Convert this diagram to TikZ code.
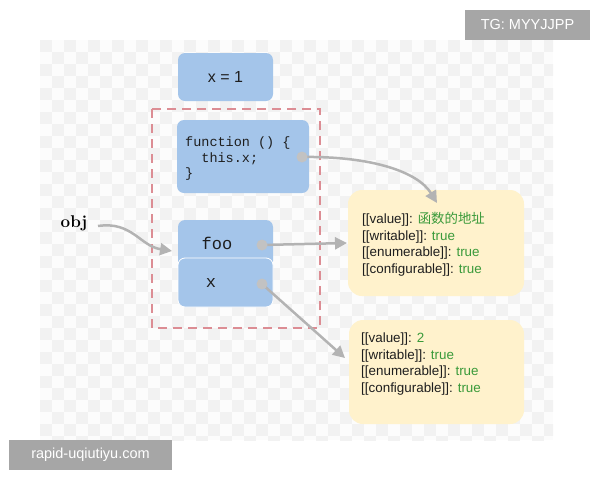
\documentclass[tikz,border=0pt]{standalone}
\usepackage{fontspec}
\newfontfamily\sansf{Liberation Sans}
\newfontfamily\monof{Liberation Mono}
\newfontfamily\cjk{Noto Sans CJK SC}
\usetikzlibrary{arrows.meta}
\definecolor{boxblue}{HTML}{A4C5EA}
\definecolor{boxyellow}{HTML}{FFF2CC}
\definecolor{dashpink}{HTML}{DC8D94}
\definecolor{arrowgray}{HTML}{B3B3B3}
\definecolor{dotgray}{HTML}{C2C2C2}
\definecolor{valgreen}{HTML}{3A9A3A}
\definecolor{wmgray}{HTML}{A6A6A6}
\definecolor{checkA}{HTML}{FCFCFC}
\definecolor{checkB}{HTML}{F2F2F2}
\definecolor{txtdark}{HTML}{1E1E1E}
\begin{document}
\begin{tikzpicture}[x=1pt,y=-1pt,
  bluebox/.style={fill=boxblue, rounded corners=7pt, draw=none, inner sep=0pt},
  yellowbox/.style={fill=boxyellow, rounded corners=14pt, draw=none, inner sep=0pt},
  dotnode/.style={circle, fill=dotgray, minimum size=11pt, inner sep=0pt},
  conn/.style={draw=arrowgray, line width=2.5pt, -{Triangle[length=12pt,width=12pt]}},
  proptext/.style={align=left, anchor=north west, inner sep=0pt, text=txtdark, font=\sansf\fontsize{13.4}{16.5}\selectfont},
  wmbox/.style={fill=wmgray, inner sep=0pt, text=white, font=\sansf\fontsize{14.5}{16}\selectfont}
]
\useasboundingbox (0,0) rectangle (600,480);
\fill[white] (0,0) rectangle (600,480);
% checkered background
\fill[checkA] (40,40) rectangle (553,440);
\begin{scope}
\clip (40,40) rectangle (553,440);
\foreach \i in {0,2,...,42} {
  \foreach \j in {0,2,...,34} {
    \fill[checkB] ({40+12*\i},{40+12*\j}) rectangle +(12,12);
    \fill[checkB] ({52+12*\i},{52+12*\j}) rectangle +(12,12);
  }
}
\end{scope}
% watermarks
\node[wmbox, minimum width=125pt, minimum height=30pt] (wm1) at (527.5,25) {TG: MYYJJPP};
\node[wmbox, minimum width=163pt, minimum height=30pt] (wm2) at (90.5,455) {rapid-uqiutiyu.com};

% blue boxes
\node[bluebox, minimum width=95pt, minimum height=48pt, text=txtdark, font=\sansf\fontsize{16}{18}\selectfont] (x1) at (225.5,77) {x = 1};
\node[bluebox, minimum width=132pt, minimum height=73pt] (fn) at (243,156.5) {};
\node[anchor=north west, inner sep=0pt, align=left, text=txtdark, font=\monof\fontsize{13.5}{15.5}\selectfont] (fntext) at (185,137) {function () \{\\\ \ this.x;\\\}};
\node[bluebox, minimum width=95pt, minimum height=48pt] (foo) at (225.5,244) {};
\node[font=\monof\fontsize{17}{19}\selectfont, text=txtdark, inner sep=0pt] (footext) at (217,243) {foo};
\node[bluebox, draw=white, line width=0.8pt, minimum width=95pt, minimum height=49pt] (xb) at (225.5,282.5) {};
\node[font=\monof\fontsize{17}{19}\selectfont, text=txtdark, inner sep=0pt] (xtext) at (211,283) {x};

% dashed frame
\draw[dashpink, line width=2.5pt, dash pattern=on 9pt off 6pt] (152,109) rectangle (320,328);

% yellow boxes
\node[yellowbox, minimum width=176pt, minimum height=106pt] (y1) at (436,243) {};
\node[proptext] (y1text) at (362,212) {[[value]]: \textcolor{valgreen}{\cjk 函数的地址}\\{}%
[[writable]]: \textcolor{valgreen}{true}\\{}%
[[enumerable]]: \textcolor{valgreen}{true}\\{}%
[[configurable]]: \textcolor{valgreen}{true}};
\node[yellowbox, minimum width=175pt, minimum height=104pt] (y2) at (436.5,372) {};
\node[proptext] (y2text) at (361,333) {[[value]]: \textcolor{valgreen}{2}\\{}%
[[writable]]: \textcolor{valgreen}{true}\\{}%
[[enumerable]]: \textcolor{valgreen}{true}\\{}%
[[configurable]]: \textcolor{valgreen}{true}};

% obj label
\node[font=\bfseries\fontsize{17}{19}\selectfont, inner sep=0pt] (obj) at (74,223) {obj};

% dot positions
\coordinate (p1) at (302,157);
\coordinate (p2) at (262,245);
\coordinate (p3) at (262,284);

% arrow end points
\coordinate (e1) at (437,203);
\coordinate (e2) at (347,243);
\coordinate (e3) at (345,358);
\coordinate (e0) at (172,251);
\coordinate (s0) at (98,226);

% connectors
\draw[conn] (p1) .. controls (372,156) and (418,172) .. (e1);
\draw[conn] (p2) -- (e2);
\draw[conn] (p3) -- (e3);
\draw[conn] (s0) .. controls (132,221) and (140,246) .. (e0);

% dots on top
\node[dotnode] (d1) at (p1) {};
\node[dotnode] (d2) at (p2) {};
\node[dotnode] (d3) at (p3) {};
\end{tikzpicture}
\end{document}
